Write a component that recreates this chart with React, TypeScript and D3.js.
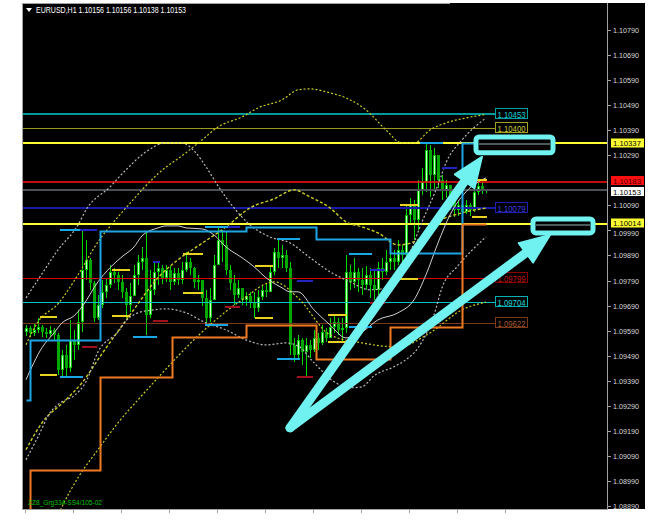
import React from 'react';
import * as d3 from 'd3';

// ---------- DATA ----------
const firstOpen = 1.09585;
const closes = [1.09601,1.09581,1.09593,1.09605,1.09585,1.09577,1.09593,1.09573,1.09434,1.09494,1.09442,1.09553,1.09533,1.09625,1.09833,1.09873,1.09781,1.09641,1.09693,1.09745,1.09773,1.09825,1.09813,1.09785,1.09745,1.09693,1.09729,1.09813,1.09865,1.09881,1.09653,1.09753,1.09825,1.09841,1.09801,1.09833,1.09785,1.09821,1.09793,1.09833,1.09865,1.09841,1.09785,1.09793,1.09721,1.09641,1.09713,1.09853,1.09952,1.09932,1.09833,1.09781,1.09733,1.09761,1.09713,1.09729,1.09705,1.09681,1.09725,1.09753,1.09745,1.09825,1.09905,1.09881,1.09893,1.09841,1.09533,1.09494,1.09553,1.09505,1.09533,1.09513,1.09561,1.09541,1.09585,1.09561,1.09605,1.09625,1.09593,1.09601,1.09825,1.09785,1.09825,1.09793,1.09773,1.09813,1.09773,1.09753,1.09841,1.09825,1.09865,1.09881,1.09865,1.09912,1.09893,1.10052,1.10092,1.10032,1.10152,1.10184,1.10311,1.10212,1.10292,1.10192,1.10152,1.10172,1.10112,1.10072,1.10092,1.10064,1.10092,1.10072,1.10144,1.10168,1.10156,1.10153];
const highs = [1.09613,1.09609,1.09617,1.09641,1.09613,1.09601,1.09609,1.09601,1.09581,1.09513,1.09533,1.09633,1.09593,1.09673,1.09988,1.09952,1.09881,1.09790,1.09733,1.09793,1.09801,1.09853,1.09841,1.09825,1.09813,1.09761,1.09781,1.09853,1.09893,1.09924,1.09984,1.09833,1.09865,1.09865,1.09853,1.09853,1.09849,1.09841,1.09841,1.09865,1.09905,1.09881,1.09845,1.09813,1.09793,1.09753,1.09761,1.09893,1.10000,1.09992,1.09984,1.09853,1.09813,1.09793,1.09753,1.09745,1.09745,1.09745,1.09753,1.09773,1.09777,1.09853,1.09920,1.09952,1.09932,1.09912,1.09865,1.09561,1.09573,1.09561,1.09561,1.09553,1.09593,1.09581,1.09613,1.09601,1.09641,1.09653,1.09641,1.09641,1.09893,1.09853,1.09881,1.09841,1.09841,1.09849,1.09841,1.09833,1.09865,1.09881,1.09912,1.09940,1.09912,1.09952,1.09932,1.10092,1.10120,1.10112,1.10192,1.10240,1.10339,1.10331,1.10319,1.10292,1.10212,1.10192,1.10172,1.10120,1.10112,1.10104,1.10112,1.10100,1.10172,1.10192,1.10184,1.10156];
const lows = [1.09569,1.09565,1.09569,1.09581,1.09565,1.09561,1.09565,1.09553,1.09414,1.09406,1.09410,1.09426,1.09474,1.09513,1.09585,1.09793,1.09753,1.09625,1.09633,1.09681,1.09721,1.09761,1.09781,1.09753,1.09721,1.09641,1.09665,1.09733,1.09773,1.09833,1.09573,1.09641,1.09733,1.09773,1.09777,1.09785,1.09753,1.09773,1.09773,1.09777,1.09825,1.09813,1.09761,1.09753,1.09689,1.09613,1.09625,1.09733,1.09865,1.09865,1.09813,1.09753,1.09693,1.09721,1.09693,1.09689,1.09681,1.09641,1.09665,1.09713,1.09725,1.09745,1.09813,1.09841,1.09841,1.09825,1.09494,1.09466,1.09474,1.09454,1.09406,1.09482,1.09505,1.09513,1.09533,1.09545,1.09561,1.09581,1.09573,1.09545,1.09581,1.09753,1.09761,1.09745,1.09733,1.09753,1.09721,1.09713,1.09733,1.09793,1.09813,1.09833,1.09833,1.09853,1.09865,1.09853,1.10012,1.09952,1.09992,1.10132,1.10144,1.10124,1.10152,1.10160,1.10112,1.10120,1.10072,1.10044,1.10048,1.10040,1.10056,1.10048,1.10064,1.10132,1.10136,1.10138];

const priceTicks = ['1.10790','1.10690','1.10590','1.10490','1.10390','1.10290','1.10090','1.09990','1.09890','1.09790','1.09690','1.09590','1.09490','1.09390','1.09290','1.09190','1.09090','1.08990','1.08890'];

const levelValues = [1.10453, 1.10400, 1.10337, 1.10183, 1.10153, 1.10079, 1.10014, 1.09799, 1.09704, 1.09622];

// moving average (solid) and band curves: bar index / price
const maBars = [0,4,7,9,12,14,18,21,24,27,29,33,35,38,40,44,47,50,54,57,60,64,66,68,72,76,80,84,88,93,97,100,103,106,110,115];
const maPrices = [1.09394,1.09522,1.09581,1.09621,1.09649,1.09685,1.09785,1.09841,1.09885,1.09924,1.09968,1.10000,1.10008,1.10008,1.10000,1.09996,1.09972,1.09924,1.09881,1.09845,1.09801,1.09761,1.09745,1.09745,1.09673,1.09613,1.09561,1.09585,1.09633,1.09661,1.09713,1.09813,1.09940,1.10052,1.10144,1.10200];
const grayUpBars = [0,3,8,13,15,21,25,30,35,39,42,45,48,52,56,61,66,71,76,81,86,91,95,99,103,105,109,115];
const grayUpPrices = [1.09721,1.09793,1.09912,1.10012,1.10072,1.10164,1.10232,1.10304,1.10339,1.10339,1.10308,1.10244,1.10168,1.10080,1.10012,1.09964,1.09940,1.09881,1.09825,1.09785,1.09753,1.09765,1.09865,1.10024,1.10172,1.10260,1.10351,1.10439];
const grayLoBars = [0,3,6,9,12,15,18,23,25,28,32,35,40,45,50,55,60,65,68,72,77,81,84,87,92,95,98,102,104,108,115];
const grayLoPrices = [1.09075,1.09166,1.09262,1.09306,1.09330,1.09386,1.09505,1.09585,1.09629,1.09661,1.09673,1.09677,1.09661,1.09621,1.09593,1.09553,1.09533,1.09541,1.09529,1.09462,1.09386,1.09362,1.09366,1.09410,1.09446,1.09474,1.09521,1.09653,1.09761,1.09849,1.09964];
const yelUpBars = [0,3,8,13,18,23,25,29,33,40,44,48,54,58,64,68,71,76,80,85,90,94,97,101,105,110,115];
const yelUpPrices = [1.09534,1.09625,1.09697,1.09813,1.09944,1.10044,1.10080,1.10152,1.10216,1.10300,1.10351,1.10403,1.10443,1.10479,1.10511,1.10551,1.10555,1.10539,1.10519,1.10471,1.10391,1.10339,1.10339,1.10391,1.10419,1.10439,1.10453];
const yelMidBars = [0,4,10,14,19,26,33,38,43,50,56,62,67,71,76,80,84,88,93,98,103,109,115];
const yelMidPrices = [1.09115,1.09222,1.09314,1.09382,1.09498,1.09653,1.09801,1.09873,1.09928,1.10004,1.10080,1.10116,1.10152,1.10124,1.10080,1.10024,1.10004,1.09980,1.09932,1.09952,1.10024,1.10060,1.10079];
const yelLoBars = [0,5,9,13,18,23,28,33,43,54,62,68,76,84,93,101,109,115];
const yelLoPrices = [1.08516,1.08736,1.08887,1.09003,1.09115,1.09222,1.09314,1.09402,1.09569,1.09713,1.09785,1.09721,1.09573,1.09541,1.09525,1.09581,1.09673,1.09704];

// channel step lines
const blueStepBars = [0,1,18.5,55,72.5,91,109,115];
const blueStepPrices = [1.09314,1.09553,1.09988,1.10004,1.09956,1.09901,1.10339,1.10339];
const orangeStepBars = [0,1,18.5,36.5,55,72.5,91,109,115];
const orangeStepPrices = [1.08850,1.09035,1.09406,1.09565,1.09613,1.09478,1.09605,1.10016,1.10016];

// short fractal level marks
const fracFrom = [8.5,13.5,3.5,3.5,8.5,14,21.5,21.5,26.75,31.75,31.75,39.25,39.25,44.75,50.5,49.75,44.75,57.25,57.25,62.75,67.75,62.75,67.75,75.5,75.5,80.75,80.75,86,86,93.5,93.5,98.5,104,111.5,111.5];
const fracTo = [13.5,17.75,7.75,7.75,14.25,17.75,26,26,32.75,33.5,35.5,44.25,44.25,50.5,53.5,53.5,50.5,61.75,61.75,68.5,71.75,68.5,71.75,80.25,80.25,86.5,86.5,89.75,89.75,98,98,104.25,107.75,115.25,115.25];
const fracPrice = [1.09992,1.09992,1.09645,1.09414,1.09406,1.09525,1.09833,1.09649,1.09565,1.09865,1.09629,1.09897,1.09741,1.10004,1.10004,1.09685,1.09613,1.09849,1.09641,1.09956,1.09789,1.09478,1.09406,1.09653,1.09545,1.09897,1.09605,1.09833,1.09701,1.10092,1.09797,1.10339,1.10240,1.10192,1.10044];
const fracKind = ['lb','nv','yl','yl','lb','dr','yl','yl','lb','nv','dr','yl','yl','lb','nv','dr','lb','yl','yl','lb','nv','lb','dr','yl','yl','lb','lb','nv','dr','yl','yl','lb','nv','yl','yl'];

// annotations (bar, price)
const arrowStart = [66, 1.09202];
const arrowTips = [[114, 1.10284], [131, 1.09972]];
const boxBars = [[112.5, 131.75], [126.75, 141.75]];
const boxPrices = [[1.10363, 1.10300], [1.10036, 1.09980]];
const boxLevels = [1.10337, 1.10014];

const titleText = 'EURUSD,H1  1.10156 1.10156 1.10138 1.10153';
const footText = 'ZZ8_Grg334-SS4/105-02';

// ---------- STYLES ----------
const levelStyles = [
  { color: '#009a9a', w: 2, axis: false, txt: '#10d0d0', border: '#00a0a0' },
  { color: '#9a9a1e', w: 1, axis: false, txt: '#c8c832', border: '#a0a020' },
  { color: '#ffff33', w: 2, axis: true, bg: '#ffff33', txt: '#000000', dy: 0 },
  { color: '#ff1010', w: 1.5, axis: true, bg: '#ff1010', txt: '#4a0000', dy: -1.5 },
  { color: '#4a5156', w: 2, axis: true, bg: '#ffffff', txt: '#000000', dy: 1.5 },
  { color: '#1a1aa8', w: 2, axis: false, txt: '#3c3ce0', border: '#2020b0' },
  { color: '#ffff33', w: 2, axis: true, bg: '#ffff33', txt: '#000000', dy: -1 },
  { color: '#dd0000', w: 1, axis: false, txt: '#c01010', border: '#8a0000' },
  { color: '#00c4c4', w: 1, axis: false, txt: '#20d8d8', border: '#00b0b0' },
  { color: '#7a3a1a', w: 1, axis: false, txt: '#a85a30', border: '#7a3a1a' },
];
const fracColors = { lb: '#1aa7e6', nv: '#2424c0', yl: '#e8d420', dr: '#a0101e' };
const CYAN = '#70f2f0';

export default function App() {
  const x = d3.scaleLinear().domain([0, 115]).range([26, 486]);
  const y = d3.scaleLinear().domain([1.0889, 1.1079]).range([506, 30]);

  const plotL = 22, plotT = 3, plotR = 607, plotB = 509;
  const labelX = x(117.25);

  const smooth = d3.line().x((d: any) => x(d[0])).y((d: any) => y(d[1])).curve(d3.curveMonotoneX);
  const step = d3.line().x((d: any) => Math.round(x(d[0])) + 0.5).y((d: any) => Math.round(y(d[1])) + 0.5).curve(d3.curveStepAfter);
  const zip = (a: number[], b: number[]) => a.map((v, i) => [v, b[i]]);

  const candles = closes.map((c, i) => {
    const o = i === 0 ? firstOpen : closes[i - 1];
    return { i, o, c, h: Math.max(highs[i], o, c), l: Math.min(lows[i], o, c) };
  });

  const font = "'Liberation Sans', Arial, sans-serif";

  const arrow = (tip: number[], key: number) => {
    const sx = x(arrowStart[0]), sy = y(arrowStart[1]);
    const tx = x(tip[0]), ty = y(tip[1]);
    const dx = tx - sx, dy = ty - sy, len = Math.hypot(dx, dy);
    const ux = dx / len, uy = dy / len, px = -uy, py = ux;
    const bx = tx - ux * 30, by = ty - uy * 30;
    const hw = 12;
    return (
      <g key={key}>
        <line x1={sx} y1={sy} x2={tx - ux * 22} y2={ty - uy * 22} stroke={CYAN} strokeWidth={9} strokeLinecap="round" />
        <polygon points={`${tx},${ty} ${bx + px * hw},${by + py * hw} ${bx - px * hw},${by - py * hw}`} fill={CYAN} stroke={CYAN} strokeWidth={2} strokeLinejoin="round" />
      </g>
    );
  };

  return (
    <svg width={654} height={521} style={{ position: 'fixed', left: 0, top: 0, background: '#ffffff' }} fontFamily={font}>
      <defs>
        <clipPath id="plotclip"><rect x={plotL + 1} y={plotT + 1} width={plotR - plotL - 1} height={plotB - plotT - 1} /></clipPath>
      </defs>
      <rect x={plotL} y={plotT} width={645 - plotL} height={plotB - plotT} fill="#000" />

      <g clipPath="url(#plotclip)">
        {/* candles */}
        {candles.map(d => {
          const cx = Math.round(x(d.i));
          const top = Math.round(y(Math.max(d.o, d.c)));
          const bot = Math.round(y(Math.min(d.o, d.c)));
          const bull = d.c > d.o;
          const hgt = Math.max(1, bot - top);
          return (
            <g key={d.i}>
              <rect x={cx} y={Math.round(y(d.h))} width={1} height={Math.max(1, Math.round(y(d.l)) - Math.round(y(d.h)))} fill="#00d800" />
              <rect x={cx - 1} y={top} width={3} height={hgt} fill={bull ? '#00c800' : '#00a800'} />
              {bull && hgt > 2 ? <rect x={cx} y={top + 1} width={1} height={hgt - 2} fill="#ccffcc" /> : null}
            </g>
          );
        })}

        {/* horizontal levels */}
        {levelValues.map((v, i) => {
          const s = levelStyles[i];
          const yy = Math.round(y(v)) + (s.w === 1 ? 0.5 : 0);
          return <line key={i} x1={plotL + 1} x2={s.axis ? plotR : labelX} y1={yy} y2={yy} stroke={s.color} strokeWidth={s.w} />;
        })}

        {/* bands */}
        <path d={smooth(zip(yelUpBars, yelUpPrices) as any) || ''} fill="none" stroke="#cccc26" strokeWidth={1.2} strokeDasharray="2,2" />
        <path d={smooth(zip(yelMidBars, yelMidPrices) as any) || ''} fill="none" stroke="#cccc26" strokeWidth={1.4} strokeDasharray="3,2" />
        <path d={smooth(zip(yelLoBars, yelLoPrices) as any) || ''} fill="none" stroke="#cccc26" strokeWidth={1.2} strokeDasharray="2,2" />
        <path d={smooth(zip(grayUpBars, grayUpPrices) as any) || ''} fill="none" stroke="#b8b8b8" strokeWidth={1.2} strokeDasharray="2,2" />
        <path d={smooth(zip(grayLoBars, grayLoPrices) as any) || ''} fill="none" stroke="#b8b8b8" strokeWidth={1.2} strokeDasharray="2,2" />
        <path d={smooth(zip(maBars, maPrices) as any) || ''} fill="none" stroke="#cfcfcf" strokeWidth={1} />

        {/* step channels */}
        <path d={step(zip(blueStepBars, blueStepPrices) as any) || ''} fill="none" stroke="#1ea6e4" strokeWidth={2} />
        <path d={step(zip(orangeStepBars, orangeStepPrices) as any) || ''} fill="none" stroke="#f07a22" strokeWidth={2} />

        {/* fractal marks */}
        {fracFrom.map((f, i) => (
          <line key={i} x1={x(f)} x2={x(fracTo[i])} y1={Math.round(y(fracPrice[i]))} y2={Math.round(y(fracPrice[i]))} stroke={(fracColors as any)[fracKind[i]]} strokeWidth={2} />
        ))}

        <text x={plotL + 6} y={plotB - 4} fontSize={8} fill="#00c000" textLength={74} lengthAdjust="spacingAndGlyphs">{footText}</text>
      </g>

      {/* level labels in chart */}
      {levelValues.map((v, i) => {
        const s = levelStyles[i];
        if (s.axis) return null;
        const yy = Math.round(y(v));
        return (
          <g key={i}>
            <rect x={labelX + 0.5} y={yy - 5.5} width={32} height={10} fill="#000" stroke={s.border} strokeWidth={1} />
            <text x={labelX + 2.5} y={yy + 3.5} fontSize={9} fill={s.txt} textLength={28} lengthAdjust="spacingAndGlyphs">{v.toFixed(5)}</text>
          </g>
        );
      })}

      {/* annotations */}
      {arrowTips.map((t, i) => arrow(t, i))}
      {boxBars.map((b, i) => {
        const x0 = x(b[0]), x1 = x(b[1]);
        const y0 = y(boxPrices[i][0]), y1 = y(boxPrices[i][1]);
        const ly = Math.round(y(boxLevels[i]));
        return (
          <g key={i}>
            <rect x={x0} y={y0} width={x1 - x0} height={y1 - y0} rx={3} fill="#000" stroke={CYAN} strokeWidth={5} />
            <line x1={x0 + 3} x2={x1 - 3} y1={ly + 1} y2={ly + 1} stroke="#4a5a5a" strokeWidth={2} />
          </g>
        );
      })}

      {/* frame */}
      <line x1={plotL + 0.5} x2={plotL + 0.5} y1={plotT} y2={plotB + 1} stroke="#a0a0a0" strokeWidth={1} />
      <line x1={plotL} x2={450} y1={plotT + 0.5} y2={plotT + 0.5} stroke="#a0a0a0" strokeWidth={1} />
      <line x1={plotL} x2={plotR + 1} y1={plotB + 0.5} y2={plotB + 0.5} stroke="#a0a0a0" strokeWidth={1} />
      <line x1={plotR + 0.5} x2={plotR + 0.5} y1={plotT} y2={plotB + 1} stroke="#a0a0a0" strokeWidth={1} />

      {/* bottom time ticks */}
      {d3.range(0, 121, 12).map(b => (
        <line key={b} x1={Math.round(x(b)) - 0.5} x2={Math.round(x(b)) - 0.5} y1={plotB} y2={plotB + 4} stroke="#a0a0a0" strokeWidth={1} />
      ))}

      {/* price axis */}
      {priceTicks.map(t => {
        const yy = Math.round(y(+t));
        const shift = t === '1.09990' ? 3 : 0;
        return (
          <g key={t}>
            <line x1={plotR} x2={plotR + 4} y1={yy + 0.5} y2={yy + 0.5} stroke="#a0a0a0" />
            <text x={613} y={yy + 3 + shift} fontSize={7.5} fill="#d8d8d8" textLength={26} lengthAdjust="spacingAndGlyphs">{t}</text>
          </g>
        );
      })}
      {levelValues.map((v, i) => {
        const s = levelStyles[i];
        if (!s.axis) return null;
        const yy = Math.round(y(v)) + (s.dy || 0);
        return (
          <g key={i}>
            <rect x={611} y={yy - 4.5} width={33} height={9} fill={s.bg} />
            <text x={613} y={yy + 3} fontSize={7.5} fill={s.txt} textLength={28} lengthAdjust="spacingAndGlyphs">{v.toFixed(5)}</text>
          </g>
        );
      })}

      {/* title */}
      <path d="M26,8 L32,8 L29,12 Z" fill="#ffffff" />
      <text x={36} y={13} fontSize={8.5} fill="#ffffff" textLength={150} lengthAdjust="spacingAndGlyphs">{titleText}</text>
    </svg>
  );
}
